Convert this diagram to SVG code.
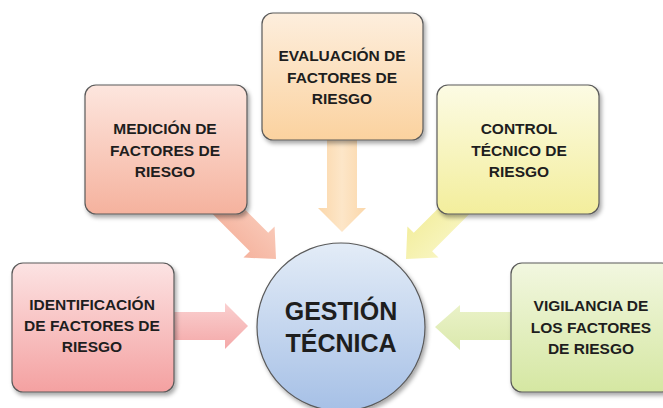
<svg xmlns="http://www.w3.org/2000/svg" width="663" height="408" viewBox="0 0 663 408">
<style>
.box{stroke:#5a5a5a;stroke-width:1.2;filter:url(#sh)}
.t{font-family:"Liberation Sans",Arial,sans-serif;font-weight:bold;font-size:15.5px;fill:#1e1e1e;text-anchor:middle}
.c{font-family:"Liberation Sans",Arial,sans-serif;font-weight:bold;font-size:25px;fill:#1e1e1e;text-anchor:middle}
</style>
<defs>
<filter id="sh" x="-10%" y="-10%" width="125%" height="130%"><feDropShadow dx="2" dy="3" stdDeviation="2" flood-color="#000" flood-opacity="0.35"/></filter>
<linearGradient id="gId" x1="0" y1="0" x2="0" y2="1"><stop offset="0" stop-color="#fce3e3"/><stop offset="1" stop-color="#f4a1a1"/></linearGradient>
<linearGradient id="gMe" x1="0" y1="0" x2="0" y2="1"><stop offset="0" stop-color="#fde6de"/><stop offset="1" stop-color="#f5b29e"/></linearGradient>
<linearGradient id="gEv" x1="0" y1="0" x2="0" y2="1"><stop offset="0" stop-color="#fdeedd"/><stop offset="1" stop-color="#fbd29f"/></linearGradient>
<linearGradient id="gCo" x1="0" y1="0" x2="0" y2="1"><stop offset="0" stop-color="#fcfbe4"/><stop offset="1" stop-color="#f3ee9c"/></linearGradient>
<linearGradient id="gVi" x1="0" y1="0" x2="0" y2="1"><stop offset="0" stop-color="#f2f7e0"/><stop offset="1" stop-color="#d5e7a2"/></linearGradient>
<linearGradient id="gCi" x1="0" y1="0" x2="0" y2="1"><stop offset="0" stop-color="#e3ecf7"/><stop offset="1" stop-color="#a6c0e6"/></linearGradient>
<linearGradient id="aId" x1="0" y1="0" x2="0" y2="1"><stop offset="0" stop-color="#fad0d0"/><stop offset="1" stop-color="#f4a8a8"/></linearGradient>
<linearGradient id="aMe" x1="0" y1="0" x2="0" y2="1"><stop offset="0" stop-color="#f9c9b8"/><stop offset="1" stop-color="#f5b39e"/></linearGradient>
<linearGradient id="aEv" x1="0" y1="0" x2="1" y2="0"><stop offset="0" stop-color="#fbd7aa"/><stop offset="0.5" stop-color="#fde6c8"/><stop offset="1" stop-color="#fbd7aa"/></linearGradient>
<linearGradient id="aCo" x1="0" y1="0" x2="0" y2="1"><stop offset="0" stop-color="#f8f5c0"/><stop offset="1" stop-color="#f3ee9f"/></linearGradient>
<linearGradient id="aVi" x1="0" y1="0" x2="0" y2="1"><stop offset="0" stop-color="#eaf2c8"/><stop offset="1" stop-color="#dbe9ad"/></linearGradient>
</defs>
<rect width="663" height="408" fill="#ffffff"/>
<g id="connectors">
<polygon fill="url(#aId)" points="160,312 225,312 225,303 248,326 225,349 225,340 160,340"/>
<polygon fill="url(#aVi)" points="530,312 460,312 460,305 435,327 460,350 460,340 530,340"/>
<polygon fill="url(#aEv)" points="327,120 357,120 357,208 366,208 342,232 318,208 327,208"/>
<polygon fill="url(#aMe)" transform="translate(276,259) rotate(45)" points="-90,-13 -24,-13 -24,-22 0,0 -24,22 -24,13 -90,13"/>
<polygon fill="url(#aCo)" transform="translate(406,259) rotate(135)" points="-90,-13 -24,-13 -24,-22 0,0 -24,22 -24,13 -90,13"/>
</g>
<g id="identificacion">
<rect class="box" x="12" y="263" width="162" height="129" rx="11" fill="url(#gId)"/>
<text class="t" x="92" y="310">IDENTIFICACIÓN</text>
<text class="t" x="92" y="331">DE FACTORES DE</text>
<text class="t" x="92" y="352">RIESGO</text>
</g>
<g id="medicion">
<rect class="box" x="85" y="85" width="162" height="129" rx="11" fill="url(#gMe)"/>
<text class="t" x="165" y="134">MEDICIÓN DE</text>
<text class="t" x="165" y="156">FACTORES DE</text>
<text class="t" x="165" y="177">RIESGO</text>
</g>
<g id="evaluacion">
<rect class="box" x="262" y="13" width="161" height="127" rx="11" fill="url(#gEv)"/>
<text class="t" x="342" y="61">EVALUACIÓN DE</text>
<text class="t" x="342" y="83">FACTORES DE</text>
<text class="t" x="342" y="104">RIESGO</text>
</g>
<g id="control">
<rect class="box" x="437" y="85" width="162" height="129" rx="11" fill="url(#gCo)"/>
<text class="t" x="519" y="134">CONTROL</text>
<text class="t" x="519" y="156">TÉCNICO DE</text>
<text class="t" x="519" y="177">RIESGO</text>
</g>
<g id="vigilancia">
<rect class="box" x="511" y="263" width="162" height="129" rx="11" fill="url(#gVi)"/>
<text class="t" x="591" y="311">VIGILANCIA DE</text>
<text class="t" x="591" y="333">LOS FACTORES</text>
<text class="t" x="591" y="354">DE RIESGO</text>
</g>
<g id="gestion">
<circle class="box" cx="341" cy="327" r="84" fill="url(#gCi)"/>
<text class="c" x="341" y="320">GESTIÓN</text>
<text class="c" x="341" y="352">TÉCNICA</text>
</g>
</svg>
